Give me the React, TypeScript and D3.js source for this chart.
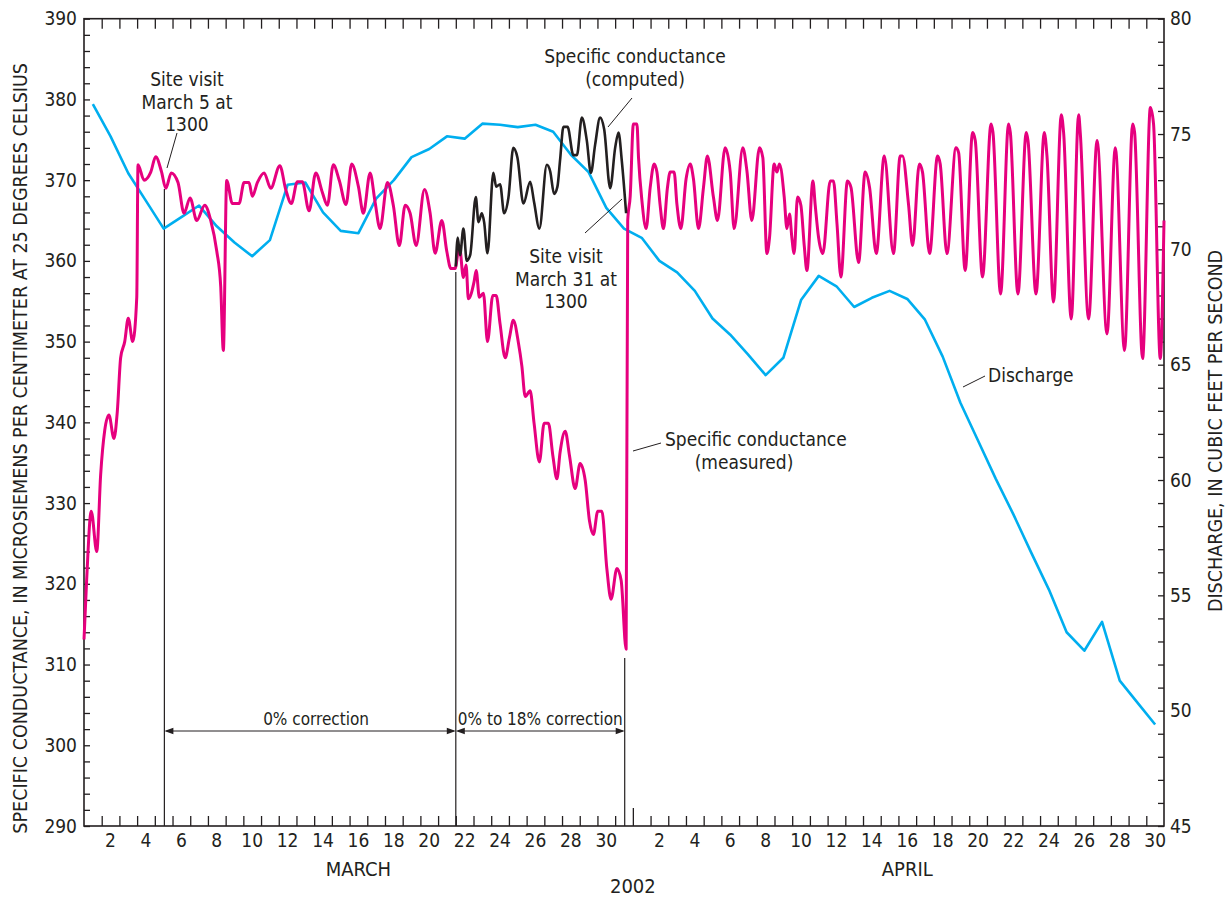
import React, { useRef, useEffect } from 'react'
import * as d3 from 'd3'

// days are counted from March 1 00:00 (0) to April 30 24:00 (61)
const measuredSC: [number, number][] = [
  [0.0, 313.1], [0.15, 320.5], [0.41, 329], [0.72, 324], [0.94, 333.5], [1.17, 339], [1.41, 340.9],
  [1.69, 338], [1.88, 341.3], [2.07, 348], [2.3, 350], [2.5, 352.9], [2.75, 350], [2.98, 355.5],
  [3.05, 371.9], [3.39, 370], [3.77, 371], [4.05, 372.9], [4.37, 371.1], [4.62, 369], [4.93, 370.9],
  [5.31, 369.7], [5.65, 365.9], [5.99, 367.8], [6.37, 365], [6.82, 366.9], [7.16, 365], [7.5, 361.2],
  [7.72, 356.9], [7.87, 348.9], [8.06, 369.95], [8.38, 367.1], [8.76, 367.1], [9.04, 369.7],
  [9.32, 369.7], [9.51, 368], [9.79, 369.7], [10.17, 370.9], [10.55, 369], [11.06, 371.8],
  [11.4, 368.8], [11.71, 367.1], [12.05, 369.8], [12.33, 369.8], [12.71, 366.2], [13.09, 370.9],
  [13.46, 368.5], [13.75, 366.9], [14.08, 371.9], [14.42, 369.95], [14.8, 367], [15.12, 372],
  [15.5, 369.2], [15.78, 365.9], [16.16, 370.9], [16.44, 367.3], [16.72, 364], [17.14, 369.7],
  [17.47, 366.9], [17.81, 361.9], [18.14, 366.9], [18.42, 365.9], [18.76, 361.9], [19.23, 368.85],
  [19.55, 365.9], [19.83, 360.95], [20.21, 365], [20.49, 361.2], [20.72, 359.06], [20.96, 359.06],
  [21.2, 361.9], [21.43, 357.95], [21.58, 359.5], [21.71, 355.3], [22.03, 357.4], [22.15, 358.8],
  [22.33, 355.5], [22.56, 356], [22.79, 350], [23.09, 355.7], [23.28, 355.7], [23.5, 352.2],
  [23.79, 348], [24.03, 350.5], [24.25, 352.65], [24.54, 349.8], [24.73, 347], [24.92, 343.2],
  [25.2, 343.9], [25.42, 339.9], [25.72, 335.1], [25.99, 339.9], [26.23, 339.9], [26.48, 335.9],
  [26.71, 333], [26.89, 336.3], [27.18, 338.9], [27.42, 335.9], [27.74, 331.8], [28.02, 334.9],
  [28.31, 332.8], [28.55, 327.8], [28.77, 326.1], [29.02, 329], [29.25, 329], [29.53, 321.9],
  [29.77, 318.1], [30.1, 321.9], [30.34, 320.4], [30.62, 311.9], [30.71, 365], [30.85, 368],
  [31.03, 376.95], [31.23, 376.95], [31.32, 372.8], [31.51, 367.5], [31.75, 364], [31.98, 369.1],
  [32.2, 372], [32.36, 371], [32.54, 366.9], [32.73, 364], [32.95, 369], [33.11, 371], [33.33, 371],
  [33.49, 367], [33.71, 364], [34.01, 370.2], [34.24, 372], [34.42, 370.2], [34.71, 364],
  [34.99, 369.1], [35.21, 373], [35.55, 367.9], [35.78, 365], [36.21, 374], [36.5, 371],
  [36.72, 364], [37.21, 374], [37.44, 371.2], [37.72, 365], [38.15, 374], [38.34, 372.8],
  [38.57, 360.9], [38.72, 362.9], [38.98, 372], [39.14, 371], [39.28, 372], [39.55, 367.9],
  [39.7, 364], [39.85, 365.8], [39.98, 362.9], [40.11, 360.9], [40.3, 367.9], [40.49, 366.9],
  [40.68, 361.9], [40.83, 358.8], [41.17, 369.9], [41.3, 366.9], [41.49, 362.9], [41.73, 360.9],
  [42.15, 369.9], [42.33, 369.9], [42.53, 364.6], [42.75, 358], [43.12, 369.9], [43.32, 369.1],
  [43.75, 359.8], [44.12, 371], [44.37, 369.1], [44.75, 360.9], [45.2, 373], [45.72, 360.9],
  [46.1, 373], [46.23, 373], [46.57, 367], [46.8, 361.9], [47.18, 372], [47.36, 371],
  [47.76, 360.9], [48.21, 373], [48.36, 372], [48.74, 360.9], [49.25, 374], [49.4, 373.4],
  [49.77, 358.8], [50.19, 375.9], [50.34, 374.9], [50.75, 358], [51.23, 376.95], [51.34, 375.9],
  [51.77, 355.9], [52.22, 376.95], [52.32, 375.9], [52.75, 355.9], [53.22, 375.9], [53.32, 374.9],
  [53.77, 355.9], [54.24, 375.9], [54.39, 373], [54.76, 354.9], [55.2, 378.1], [55.33, 375.9],
  [55.76, 352.8], [56.18, 378.1], [56.27, 375.9], [56.74, 352.8], [57.22, 374.9], [57.78, 350.95],
  [58.25, 374], [58.77, 348.9], [59.23, 376.95], [59.34, 375.9], [59.79, 347.9], [60.23, 379],
  [60.41, 376.95], [60.79, 347.9], [61.0, 365],
]

const computedSC: [number, number][] = [
  [21.0, 359.3], [21.11, 362.9], [21.24, 360.7], [21.43, 364], [21.62, 360], [21.81, 360.7],
  [22.13, 367.9], [22.28, 364.8], [22.47, 365.9], [22.6, 364.8], [22.79, 360.95], [23.12, 370.9],
  [23.28, 369.2], [23.5, 369.5], [23.73, 365.9], [23.97, 367.8], [24.25, 374], [24.48, 372.8],
  [24.82, 367.1], [25.2, 369.8], [25.42, 367.3], [25.72, 364], [26.14, 371.9], [26.33, 371.1],
  [26.55, 368.3], [26.74, 369.2], [26.89, 372.5], [27.08, 376.6], [27.31, 376.6], [27.64, 373.1],
  [27.84, 373.1], [28.12, 377.75], [28.4, 374.9], [28.63, 370.9], [28.87, 374.4], [29.15, 377.75],
  [29.38, 376.3], [29.72, 369], [30.0, 374], [30.19, 375.9], [30.38, 372.3], [30.62, 365.9],
]

// daily mean discharge, March 1 through April 30
const dischargeDaily = [
  76.3, 74.9, 73.3, 72.1, 70.9, 71.4, 71.9, 71.0, 70.3, 69.7, 70.4, 72.8, 72.9, 71.6, 70.8, 70.7,
  72.2, 73.0, 74.0, 74.35, 74.9, 74.8, 75.45, 75.4, 75.3, 75.4, 75.1, 74.1, 73.35, 71.8, 70.9,
  70.5, 69.5, 69.0, 68.2, 67.0, 66.3, 65.45, 64.55, 65.3, 67.8, 68.85, 68.4, 67.5, 67.9, 68.2,
  67.85, 66.95, 65.35, 63.35, 61.7, 60.05, 58.5, 56.85, 55.25, 53.4, 52.6, 53.85, 51.3, 50.35, 49.4,
]

const marchDayLabels = [2, 4, 6, 8, 10, 12, 14, 16, 18, 20, 22, 24, 26, 28, 30]
const aprilDayLabels = [2, 4, 6, 8, 10, 12, 14, 16, 18, 20, 22, 24, 26, 28, 30]
const scTicks = [290, 300, 310, 320, 330, 340, 350, 360, 370, 380, 390]
const qTicks = [45, 50, 55, 60, 65, 70, 75, 80]

// site visits and correction boundary, in days from March 1
const siteVisit1 = 4.54
const correctionStart = 21.0
const siteVisit2 = 30.54

const FONT = "'Liberation Sans Narrow', 'DejaVu Sans Condensed', 'Arial Narrow', sans-serif"
const INK = '#231f20'

function App() {
  const svgRef = useRef(null)

  useEffect(() => {
    const svg = d3.select(svgRef.current)
    svg.selectAll('*').remove()

    const left = 84
    const right = 1164
    const top = 18.7
    const bottom = 826

    const x = d3.scaleLinear().domain([0, 61]).range([left, right])
    const ySC = d3.scaleLinear().domain([290, 390]).range([bottom, top])
    const yQ = d3.scaleLinear().domain([45, 80]).range([bottom, top])

    const g = svg.append('g').style('font-family', FONT).attr('fill', INK)

    //Day ticks on bottom and top, month break taller
    const dayTicks = d3.range(1, 61)
    const bottomAxis = g
      .append('g')
      .attr('transform', `translate(0,${bottom})`)
      .call(
        d3
          .axisBottom(x)
          .tickValues(dayTicks)
          .tickSize(-10)
          .tickFormat(() => '')
      )
    bottomAxis.selectAll('.tick line').attr('y2', (d: any) => (d === 31 ? -18 : -10))
    const topAxis = g
      .append('g')
      .attr('transform', `translate(0,${top})`)
      .call(
        d3
          .axisTop(x)
          .tickValues(dayTicks)
          .tickSize(-10)
          .tickFormat(() => '')
      )
    ;[bottomAxis, topAxis].forEach((a) => {
      a.select('.domain').remove()
      a.selectAll('.tick line').attr('stroke', INK).attr('stroke-width', 1.3)
    })

    //Left axis (specific conductance)
    const leftAxis = g
      .append('g')
      .attr('transform', `translate(${left},0)`)
      .call(
        d3
          .axisLeft(ySC)
          .tickValues(d3.range(290, 391, 2))
          .tickSize(-6)
          .tickPadding(7)
          .tickFormat((d: any) => (scTicks.includes(d) ? String(d) : ''))
      )
    //Right axis (discharge)
    const rightAxis = g
      .append('g')
      .attr('transform', `translate(${right},0)`)
      .call(
        d3
          .axisRight(yQ)
          .tickValues(d3.range(45, 81, 1))
          .tickSize(-6)
          .tickPadding(6)
          .tickFormat((d: any) => (qTicks.includes(d) ? String(d) : ''))
      )
    ;[leftAxis, rightAxis].forEach((a) => {
      a.select('.domain').remove()
      a.selectAll('.tick line').attr('stroke', INK).attr('stroke-width', 1.3)
      a.selectAll('.tick text')
        .attr('fill', INK)
        .style('font-family', FONT)
        .style('font-size', '19px')
    })

    //Day labels, centred on each day
    g.append('g')
      .selectAll('text')
      .data(marchDayLabels.map((d) => d - 0.5).concat(aprilDayLabels.map((d) => 31 + d - 0.5)))
      .join('text')
      .attr('x', (d) => x(d))
      .attr('y', 847)
      .attr('text-anchor', 'middle')
      .style('font-size', '19px')
      .text((d, i) => String(i < marchDayLabels.length ? marchDayLabels[i] : aprilDayLabels[i - marchDayLabels.length]))

    const label = (txt: string, px: number, py: number, size = 19, anchor = 'middle') =>
      g.append('text')
        .attr('x', px)
        .attr('y', py)
        .attr('text-anchor', anchor)
        .style('font-size', `${size}px`)
        .text(txt)

    label('MARCH', x(15.5), 876, 20)
    label('APRIL', x(31 + 15.5), 876, 20)
    label('2002', x(31), 893, 20)

    g.append('text')
      .attr('transform', `translate(27,${(top + bottom) / 2 + 26}) rotate(-90)`)
      .attr('text-anchor', 'middle')
      .style('font-size', '19.5px')
      .text('SPECIFIC CONDUCTANCE, IN MICROSIEMENS PER CENTIMETER AT 25 DEGREES CELSIUS')
    g.append('text')
      .attr('transform', `translate(1222,431) rotate(-90)`)
      .attr('text-anchor', 'middle')
      .style('font-size', '19.5px')
      .text('DISCHARGE, IN CUBIC FEET PER SECOND')

    //Site visit and correction markers
    const marks = g.append('g').attr('stroke', INK).attr('stroke-width', 1.2)
    marks.append('line').attr('x1', x(siteVisit1)).attr('x2', x(siteVisit1)).attr('y1', 189).attr('y2', bottom)
    marks.append('line').attr('x1', x(correctionStart)).attr('x2', x(correctionStart)).attr('y1', 272).attr('y2', bottom)
    marks.append('line').attr('x1', x(siteVisit2)).attr('x2', x(siteVisit2)).attr('y1', 658).attr('y2', bottom)

    //Correction arrows
    const arrowY = 731
    const arrow = (x0: number, x1: number) => {
      marks.append('line').attr('x1', x0 + 2).attr('x2', x1 - 2).attr('y1', arrowY).attr('y2', arrowY).attr('stroke-width', 1)
      marks.append('path')
        .attr('d', `M${x0},${arrowY}l9,-3.2v6.4z M${x1},${arrowY}l-9,-3.2v6.4z`)
        .attr('fill', INK)
        .attr('stroke', 'none')
    }
    arrow(x(siteVisit1), x(correctionStart))
    arrow(x(correctionStart), x(siteVisit2))
    label('0% correction', (x(siteVisit1) + x(correctionStart)) / 2 + 6, 725, 17)
    label('0% to 18% correction', (x(correctionStart) + x(siteVisit2)) / 2, 725, 17)

    //Plot frame
    g.append('rect')
      .attr('x', left)
      .attr('y', top)
      .attr('width', right - left)
      .attr('height', bottom - top)
      .attr('fill', 'none')
      .attr('stroke', INK)
      .attr('stroke-width', 1.6)

    //Series
    const scLine = d3
      .line<[number, number]>()
      .x((d) => x(d[0]))
      .y((d) => ySC(d[1]))
      .curve(d3.curveMonotoneX)
    const qLine = d3
      .line<number>()
      .x((d, i) => x(i + 0.5))
      .y((d) => yQ(d))

    g.append('path')
      .datum(dischargeDaily)
      .attr('d', qLine)
      .attr('fill', 'none')
      .attr('stroke', '#00aeef')
      .attr('stroke-width', 2.6)
      .attr('stroke-linejoin', 'round')
    g.append('path')
      .datum(measuredSC)
      .attr('d', scLine)
      .attr('fill', 'none')
      .attr('stroke', '#e6007e')
      .attr('stroke-width', 3)
      .attr('stroke-linejoin', 'round')
    g.append('path')
      .datum(computedSC)
      .attr('d', scLine)
      .attr('fill', 'none')
      .attr('stroke', INK)
      .attr('stroke-width', 2.6)
      .attr('stroke-linejoin', 'round')

    //Annotations with leader lines
    const leaders = [
      [177, 133, 167, 168],
      [632, 98, 608, 127],
      [622, 199, 585, 233],
      [633, 451, 661, 443],
      [963, 387, 985, 376],
    ]
    g.append('g')
      .selectAll('line')
      .data(leaders)
      .join('line')
      .attr('x1', (d) => d[0])
      .attr('y1', (d) => d[1])
      .attr('x2', (d) => d[2])
      .attr('y2', (d) => d[3])
      .attr('stroke', INK)
      .attr('stroke-width', 1)

    label('Site visit', 187, 86)
    label('March 5 at', 187, 109)
    label('1300', 187, 131)
    label('Specific conductance', 635, 63)
    label('(computed)', 635, 86)
    label('Site visit', 566, 263)
    label('March 31 at', 566, 286)
    label('1300', 566, 308)
    label('Specific conductance', 665, 446, 19, 'start')
    label('(measured)', 744, 469)
    label('Discharge', 988, 382, 19, 'start')
  }, [])

  return (
    <svg
      ref={svgRef}
      width={1227}
      height={899}
      style={{ position: 'absolute', left: 0, top: 0, background: '#fff' }}
    />
  )
}

export default App
